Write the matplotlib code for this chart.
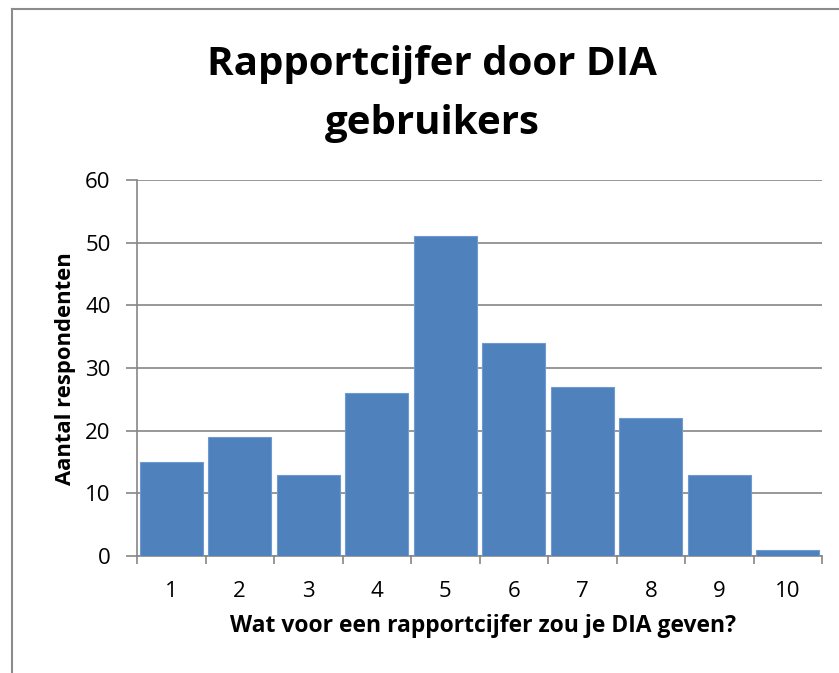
import matplotlib
matplotlib.use("Agg")
import matplotlib.pyplot as plt
from matplotlib.lines import Line2D
import numpy as np

categories = ["1", "2", "3", "4", "5", "6", "7", "8", "9", "10"]
values = [15, 19, 13, 26, 51, 34, 27, 22, 13, 1]
yticks = [0, 10, 20, 30, 40, 50, 60]
title_lines = ["Rapportcijfer door DIA", "gebruikers"]

W, H = 839, 673
fig = plt.figure(figsize=(W / 100, H / 100), dpi=100)
font = ["Open Sans", "DejaVu Sans"]
plt.rcParams['font.family'] = font

ax = fig.add_axes([137 / W, 1 - 556 / H, (822 - 137) / W, (556 - 180) / H])
x = np.arange(len(categories))
ax.bar(x, values, width=0.92, color="#4F81BD", edgecolor="#6F9AD0", linewidth=0.8, zorder=3)
ax.set_xlim(-0.5, len(categories) - 0.5)
ax.set_ylim(0, 60)
ax.set_yticks(yticks)
ax.set_xticks(x)
ax.set_xticklabels(categories)
ax.set_xticks(np.arange(-0.5, len(categories), 1.0), minor=True)
ax.tick_params(axis="x", which="major", length=0, pad=18, labelsize=16)
ax.tick_params(axis="x", which="minor", length=6, width=1.2, color="#868686", direction="out")
ax.tick_params(axis="y", length=8, width=1.2, color="#868686", direction="out", pad=11, labelsize=16)
ax.grid(axis="y", color="#868686", linewidth=1.2, zorder=0)
for s in ["top", "right"]:
    ax.spines[s].set_visible(False)
for s in ["left", "bottom"]:
    ax.spines[s].set_color("#868686")
    ax.spines[s].set_linewidth(1.2)

fig.text(483 / W, 1 - 632 / H, "Wat voor een rapportcijfer zou je DIA geven?", ha="center", va="baseline",
         fontsize=16.5, fontweight="bold")
fig.text(65 / W, 1 - 369 / H, "Aantal respondenten", ha="center", va="center", rotation=90,
         fontsize=15.8, fontweight="bold")

fig.text(432 / W, 1 - 75 / H, title_lines[0], ha="center", va="baseline", fontsize=29, fontweight="bold")
fig.text(432 / W, 1 - 134 / H, title_lines[1], ha="center", va="baseline", fontsize=29, fontweight="bold")

# outer chart frame (partially visible)
fig.add_artist(Line2D([12 / W, 12 / W], [0, 1 - 9 / H], transform=fig.transFigure, color="#8C8C8C", linewidth=1.5))
fig.add_artist(Line2D([12 / W, 1], [1 - 9 / H, 1 - 9 / H], transform=fig.transFigure, color="#8C8C8C", linewidth=1.5))

fig.savefig("out.png", dpi=100)
